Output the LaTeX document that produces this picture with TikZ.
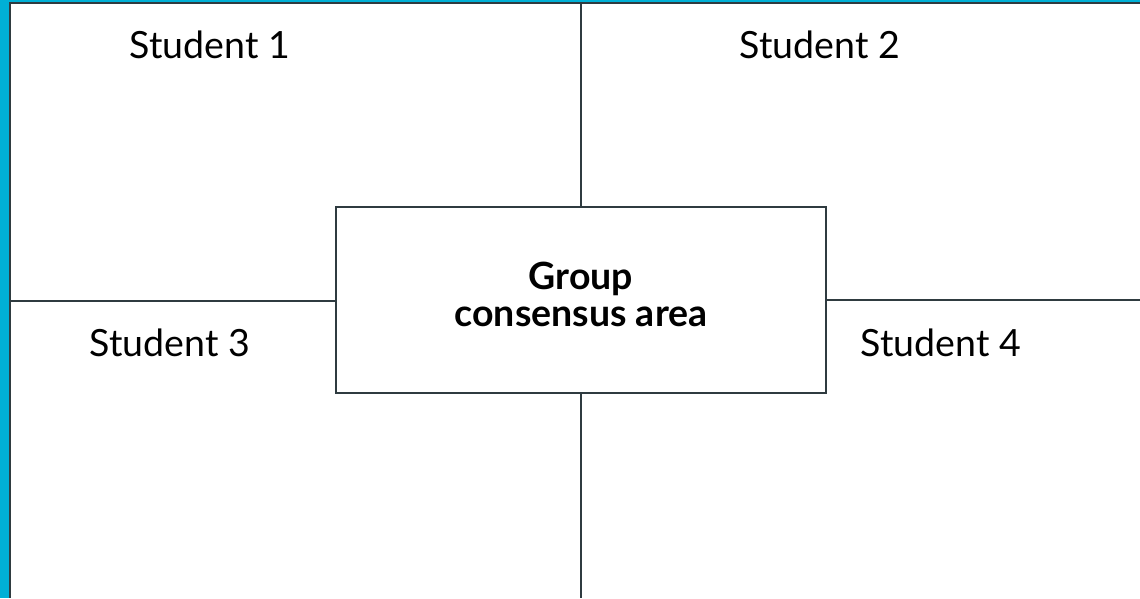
\documentclass[tikz,border=0pt]{standalone}
\usepackage{fontspec}
\setmainfont{Lato}
\usepackage{tikz}
\definecolor{framecyan}{HTML}{00B0D6}
\definecolor{slateline}{HTML}{2F3B40}

\begin{document}
\begin{tikzpicture}[x=1pt,y=-1pt]
				\tikzset{student/.style={font=\fontsize{37.5}{40}\selectfont},
					divider/.style={slateline,line width=1.6pt}}
				\useasboundingbox (0,0) rectangle (1140,598);
				\fill[white] (0,0) rectangle (1140,598);
				\fill[framecyan] (0,0) rectangle (9,598);
				\fill[framecyan] (0,0) rectangle (1140,2);
				\draw[slateline,line width=2pt] (10,598) -- (10,3) -- (1140,3);
				\node[draw=slateline,line width=1.6pt,minimum width=490pt,minimum height=186pt] (consensus) at (581,300) {};
				\node[align=center,font=\fontsize{37.5}{37}\selectfont\bfseries] (consensustext) at (581,294) {Group\\consensus area};
				\coordinate (topend) at (581,3);
				\coordinate (botend) at (581,598);
				\coordinate (leftend) at (10,301);
				\coordinate (rightend) at (1140,300);
				\draw[divider] (topend) -- (consensus.north);
				\draw[divider] (consensus.south) -- (botend);
				\draw[divider] (leftend) -- (leftend -| consensus.west);
				\draw[divider] (rightend -| consensus.east) -- (rightend);
				\node[student] (s1) at (210,45) {Student 1};
				\node[student] (s2) at (820,45) {Student 2};
				\node[student] (s3) at (170,343) {Student 3};
				\node[student] (s4) at (941,343) {Student 4};
			\end{tikzpicture}
\end{document}
